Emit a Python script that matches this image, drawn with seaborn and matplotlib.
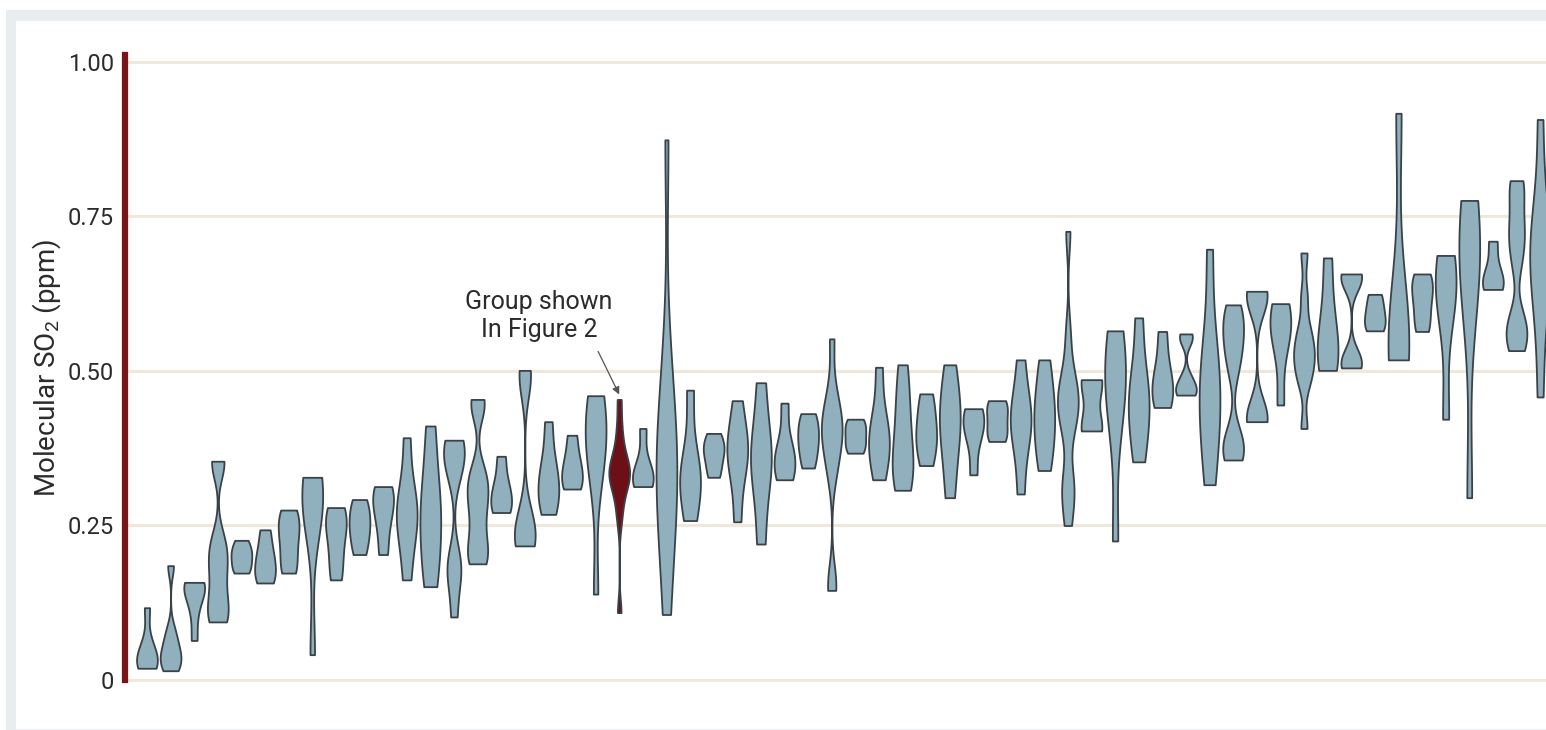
import pandas as pd
import seaborn as sns
import matplotlib.pyplot as plt
from matplotlib.patches import Rectangle

# Molecular SO2 readings per group (groups ordered by median)
so2_values = [
    [0.019, 0.025, 0.03, 0.04, 0.06, 0.117],
    [0.015, 0.025, 0.035, 0.045, 0.06, 0.08, 0.185],
    [0.064, 0.11, 0.14, 0.15, 0.155, 0.158],
    [0.094, 0.10, 0.12, 0.14, 0.17, 0.19, 0.21, 0.23, 0.35, 0.354],
    [0.173, 0.185, 0.20, 0.21, 0.226],
    [0.157, 0.17, 0.19, 0.21, 0.243],
    [0.173, 0.19, 0.22, 0.24, 0.26, 0.275],
    [0.041, 0.26, 0.28, 0.30, 0.32, 0.328],
    [0.162, 0.20, 0.24, 0.26, 0.279],
    [0.203, 0.23, 0.25, 0.27, 0.292],
    [0.203, 0.25, 0.28, 0.30, 0.313],
    [0.162, 0.23, 0.26, 0.28, 0.30, 0.392],
    [0.151, 0.20, 0.25, 0.28, 0.33, 0.411],
    [0.102, 0.16, 0.18, 0.20, 0.33, 0.35, 0.37, 0.385, 0.388],
    [0.188, 0.20, 0.22, 0.25, 0.28, 0.30, 0.32, 0.34, 0.44, 0.454],
    [0.271, 0.28, 0.30, 0.32, 0.362],
    [0.217, 0.22, 0.225, 0.235, 0.25, 0.27, 0.485, 0.495, 0.501],
    [0.268, 0.29, 0.31, 0.33, 0.36, 0.418],
    [0.309, 0.32, 0.34, 0.36, 0.396],
    [0.139, 0.33, 0.36, 0.39, 0.42, 0.44, 0.460],
    [0.109, 0.26, 0.29, 0.31, 0.32, 0.33, 0.335, 0.34, 0.35, 0.36, 0.38, 0.41, 0.454],
    [0.313, 0.32, 0.33, 0.35, 0.407],
    [0.106, 0.18, 0.25, 0.30, 0.32, 0.34, 0.36, 0.40, 0.45, 0.52, 0.874],
    [0.258, 0.31, 0.33, 0.35, 0.469],
    [0.328, 0.35, 0.37, 0.38, 0.399],
    [0.256, 0.33, 0.36, 0.38, 0.40, 0.452],
    [0.220, 0.33, 0.36, 0.38, 0.481],
    [0.324, 0.34, 0.36, 0.38, 0.448],
    [0.343, 0.37, 0.39, 0.41, 0.431],
    [0.145, 0.16, 0.33, 0.36, 0.38, 0.40, 0.41, 0.42, 0.44, 0.47, 0.552],
    [0.367, 0.38, 0.395, 0.41, 0.422],
    [0.324, 0.36, 0.38, 0.40, 0.43, 0.506],
    [0.307, 0.33, 0.35, 0.38, 0.42, 0.46, 0.510],
    [0.347, 0.38, 0.40, 0.43, 0.463],
    [0.295, 0.36, 0.40, 0.43, 0.46, 0.510],
    [0.332, 0.39, 0.41, 0.43, 0.439],
    [0.386, 0.40, 0.42, 0.44, 0.452],
    [0.301, 0.38, 0.41, 0.43, 0.45, 0.518],
    [0.339, 0.38, 0.41, 0.44, 0.47, 0.518],
    [0.250, 0.29, 0.31, 0.33, 0.40, 0.42, 0.44, 0.45, 0.46, 0.48, 0.50, 0.56, 0.726],
    [0.403, 0.41, 0.48, 0.486],
    [0.225, 0.42, 0.46, 0.50, 0.53, 0.565],
    [0.353, 0.40, 0.44, 0.46, 0.50, 0.586],
    [0.441, 0.46, 0.48, 0.51, 0.564],
    [0.461, 0.465, 0.475, 0.49, 0.55, 0.56],
    [0.316, 0.38, 0.43, 0.46, 0.50, 0.55, 0.697],
    [0.356, 0.365, 0.38, 0.40, 0.50, 0.53, 0.55, 0.57, 0.59, 0.607],
    [0.418, 0.42, 0.425, 0.43, 0.615, 0.62, 0.625, 0.629],
    [0.445, 0.54, 0.57, 0.59, 0.609],
    [0.407, 0.48, 0.50, 0.52, 0.53, 0.55, 0.57, 0.62, 0.691],
    [0.501, 0.52, 0.55, 0.60, 0.683],
    [0.505, 0.51, 0.515, 0.52, 0.645, 0.65, 0.655, 0.657],
    [0.565, 0.58, 0.60, 0.624],
    [0.518, 0.53, 0.55, 0.58, 0.917],
    [0.564, 0.59, 0.62, 0.64, 0.657],
    [0.422, 0.60, 0.63, 0.66, 0.687],
    [0.295, 0.62, 0.66, 0.70, 0.74, 0.776],
    [0.632, 0.64, 0.66, 0.710],
    [0.533, 0.545, 0.56, 0.575, 0.59, 0.67, 0.70, 0.72, 0.74, 0.77, 0.80, 0.808],
    [0.458, 0.60, 0.66, 0.69, 0.71, 0.74, 0.907],
]
group_names = [f"G{i + 1:02d}" for i in range(len(so2_values))]
highlight_group = "G21"
# groups with two clear clusters get a tighter kernel
bimodal_groups = ["G02", "G04", "G14", "G15", "G17", "G21", "G30", "G40",
                  "G45", "G47", "G48", "G50", "G52", "G59"]
yticks = [0, 0.25, 0.5, 0.75, 1.0]
ytick_labels = ["0", "0.25", "0.50", "0.75", "1.00"]

rows = [(g, v) for g, vals in zip(group_names, so2_values) for v in vals]
df = pd.DataFrame(rows, columns=["group", "so2"])

fill = "#90b0bd"
edge = "#3a4247"
red = "#6d0f16"
palette = {g: (red if g == highlight_group else fill) for g in group_names}

sns.set_style("white")
plt.rcParams["font.family"] = ["Roboto", "DejaVu Sans"]
plt.rcParams["mathtext.default"] = "regular"

fig = plt.figure(figsize=(15.46, 7.30), dpi=100, facecolor="white")
W, H = 1546, 730
# outer panel frame
fig.patches.append(Rectangle((6 / W, 0), 1, 1 - 10 / H, transform=fig.transFigure,
                             facecolor="#e8edf0", edgecolor="none", zorder=-2))
fig.patches.append(Rectangle((16 / W, 1 / H), 1, 1 - 22 / H, transform=fig.transFigure,
                             facecolor="white", edgecolor="none", zorder=-1))

ax = fig.add_axes([125 / W, 50 / H, 1 - 125 / W, (680 - 55.2) / H])
ax.set_zorder(2)
ax.patch.set_alpha(0)

is_bi = df["group"].isin(bimodal_groups)
for part, bw in [(df[~is_bi], 0.85), (df[is_bi], 0.45)]:
    sns.violinplot(data=part, x="group", y="so2", hue="group", order=group_names,
                   palette=palette, legend=False, cut=0, inner=None,
                   density_norm="width", width=0.88, linewidth=1.3, linecolor=edge,
                   bw_adjust=bw, saturation=1, ax=ax)

ax.set_xlim(-0.93, 59.25)
ax.set_ylim(0, 1.011)
ax.set_yticks(yticks)
ax.set_yticklabels(ytick_labels)
ax.tick_params(axis="y", length=0, pad=8, labelsize=17, labelcolor="#2b2b2b")
ax.set_xticks([])
ax.set_xlabel("")
ax.set_ylabel("Molecular SO$_2$ (ppm)", fontsize=20, color="#2b2b2b", labelpad=3)
ax.yaxis.grid(True, color="#f1e8dc", linewidth=2.2)
for gl in ax.get_ygridlines():
    gl.set_clip_on(False)
ax.set_axisbelow(True)
for s in ["top", "right", "bottom"]:
    ax.spines[s].set_visible(False)
ax.spines["left"].set_color("#7a1419")
ax.spines["left"].set_linewidth(4.5)

ax.annotate("Group shown\nIn Figure 2", xy=(20, 0.462), xytext=(16.6, 0.589),
            ha="center", va="center", fontsize=18, color="#2b2b2b", linespacing=1.2,
            arrowprops=dict(arrowstyle="-|>", color="#555555", lw=0.9, relpos=(0.87, 0),
                            shrinkA=5, shrinkB=0, mutation_scale=11))

fig.savefig("out.png", dpi=100)
